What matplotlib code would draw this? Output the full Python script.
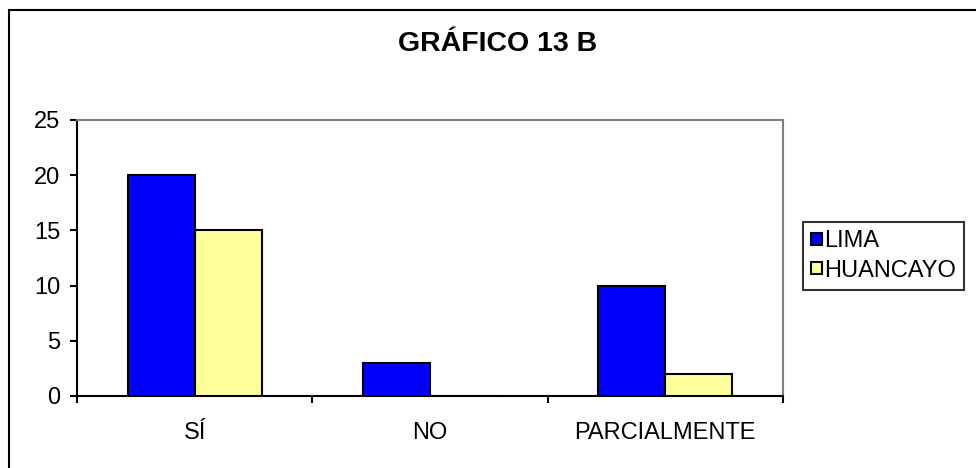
import matplotlib
matplotlib.use("Agg")
import matplotlib.pyplot as plt
from matplotlib.patches import Rectangle
import numpy as np

plt.rcParams["font.family"] = ["Liberation Sans", "DejaVu Sans"]

categories = ["SÍ", "NO", "PARCIALMENTE"]
lima = [20, 3, 10]
huancayo = [15, 0, 2]
series_names = ["LIMA", "HUANCAYO"]
y_ticks = [0, 5, 10, 15, 20, 25]

W, H = 976, 468
fig = plt.figure(figsize=(W / 100, H / 100), dpi=100)
fig.patch.set_facecolor("white")

# outer frame of the chart (cut off at the right and bottom like the source)
frame = Rectangle((8.5 / W, -0.1), 1.2, (H - 10) / H + 0.1, transform=fig.transFigure,
                  fill=False, edgecolor="black", linewidth=1.5, clip_on=False)
fig.patches.append(frame)

ax = fig.add_axes([77 / W, (H - 396) / H, (783 - 77) / W, (396 - 120) / H])

x = np.arange(len(categories))
w = 0.284
ax.bar(x - w / 2, lima, w, color="#0000FF", edgecolor="black", linewidth=1.5, label=series_names[0], zorder=3)
ax.bar(x + w / 2, huancayo, w, color="#FFFF99", edgecolor="black", linewidth=1.5, label=series_names[1], zorder=3)

ax.set_xlim(-0.5, len(categories) - 0.5)
ax.set_ylim(0, 25)
ax.set_yticks(y_ticks)
ax.set_yticklabels([str(v) for v in y_ticks], fontsize=17)

ax.set_xticks(np.arange(len(categories) + 1) - 0.5)
ax.set_xticklabels([])
ax.set_xticks(x, minor=True)
ax.set_xticklabels(categories, minor=True, fontsize=17)
ax.tick_params(axis="x", which="major", direction="out", length=5, width=1.5, color="black")
ax.tick_params(axis="x", which="minor", length=0, pad=19)
ax.tick_params(axis="y", direction="out", length=5, width=1.5, pad=7)

for side in ["left", "bottom"]:
    ax.spines[side].set_color("black")
    ax.spines[side].set_linewidth(1.5)
for side in ["top", "right"]:
    ax.spines[side].set_color("#808080")
    ax.spines[side].set_linewidth(1.5)

fig.text(497.5 / W, 1 - 44 / H, "GRÁFICO 13 B", ha="center", va="center",
         fontsize=20.5, fontweight="bold")

leg = fig.legend(loc="center left", bbox_to_anchor=(803 / W, 1 - 256 / H), fontsize=17,
                 frameon=True, fancybox=False, handlelength=0.45, handleheight=0.45,
                 handletextpad=0.1, borderpad=0.35, labelspacing=0.3, borderaxespad=0)
leg.get_frame().set_edgecolor("black")
leg.get_frame().set_linewidth(1.5)

fig.savefig("out.png", dpi=100)
